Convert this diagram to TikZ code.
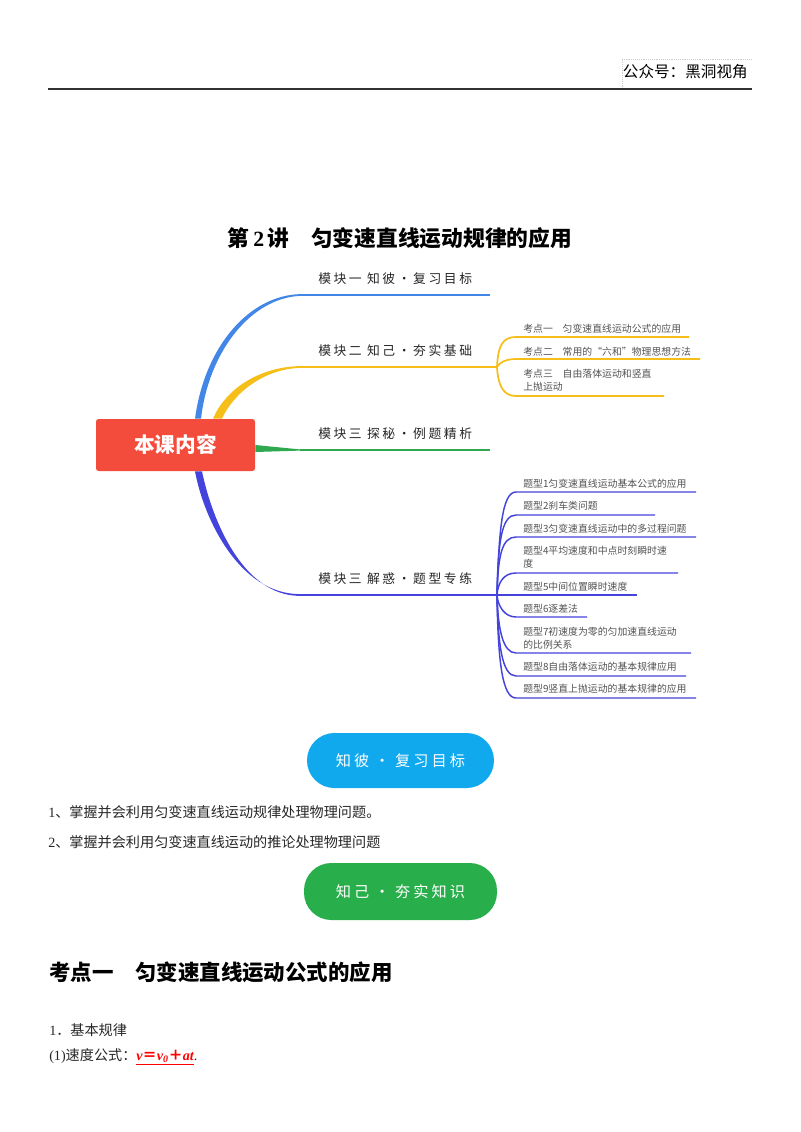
\documentclass[tikz,border=0pt]{standalone}
\usepackage{fontspec}
\setmainfont{Liberation Serif}
\newfontfamily\cjk{Noto Sans CJK SC}
\newfontfamily\cjkwide[LetterSpace=20]{Noto Sans CJK SC}
\usetikzlibrary{calc}
\definecolor{rootred}{HTML}{F44C3C}
\definecolor{brblue}{HTML}{4287E8}
\definecolor{bryellow}{HTML}{F5BE18}
\definecolor{brgreen}{HTML}{2FA84F}
\definecolor{brviolet}{HTML}{4444DD}
\definecolor{pillblue}{HTML}{10A9EE}
\definecolor{pillgreen}{HTML}{28AE4A}
\tikzset{
	leaf/.style={anchor=west,inner sep=0pt,align=left,text=black!68,font=\cjk\fontsize{7.4}{9.9}\selectfont},
	branch/.style={anchor=west,inner sep=0pt,text=black!85,font=\cjkwide\fontsize{9.6}{11}\selectfont},
	body/.style={anchor=west,inner sep=0pt,text=black!85,font=\fontsize{10.6}{12}\selectfont},
	head/.style={anchor=west,inner sep=0pt,font=\cjk\bfseries\fontsize{16.1}{18}\selectfont},
	pill/.style={rounded corners=20.5pt,inner sep=0pt,text=white,font=\cjkwide\fontsize{11.4}{13}\selectfont},
	yline/.style={bryellow,line width=1.3pt},
	vline/.style={brviolet,line width=1.1pt}
}
\begin{document}
\begin{tikzpicture}[x=0.75pt,y=-0.75pt]
	\useasboundingbox (0,0) rectangle (800,1132);

	% header
	\node[inner sep=0pt,anchor=east,font=\cjk\fontsize{11.7}{13}\selectfont] (sign) at (748,72) {公众号：黑洞视角};
	\coordinate (ruleL) at (48,89);
	\coordinate (ruleR) at (752,89);
	\draw[black!80,line width=1.3pt] (ruleL)--(ruleR);
	\draw[black!20,densely dotted,line width=0.4pt] (622,87)--(622,59)--(752,59);

	\node[head,anchor=center,font=\cjk\bfseries\fontsize{16.3}{18}\selectfont] (title) at (400,238) {第\,{\rmfamily\bfseries 2}\,讲\quad 匀变速直线运动规律的应用};

	% root and main branches
	\node[fill=rootred,rounded corners=2pt,minimum width=119.25pt,minimum height=39pt,inner sep=0pt,text=white,font=\cjk\bfseries\fontsize{15.5}{17}\selectfont] (root) at (175.5,445) {\raisebox{-1.5pt}{本课内容}};

	\coordinate (m1) at (300,295);
	\coordinate (e1) at (490,295);
	\fill[brblue] ($(root.north)+(19.5,0)$) .. controls (205,345) and (250,295.5) .. ($(m1)+(0,-0.9)$) -- ($(m1)+(0,0.9)$) .. controls (252,298) and (209,350) .. ($(root.north)+(25.5,0)$)--cycle;
	\draw[brblue,line width=1.1pt] (m1)--(e1);
	\node[branch] (lab1) at (318,279) {模块一\hspace{4pt}知彼·复习目标};

	\coordinate (m2) at (300,367);
	\coordinate (hubA) at (497,367);
	\fill[bryellow] ($(root.north)+(37.5,0)$) .. controls (225,390) and (258,367) .. ($(m2)+(0,-0.9)$) -- ($(m2)+(0,0.9)$) .. controls (263,369) and (233,394) .. ($(root.north)+(46.5,0)$)--cycle;
	\draw[bryellow,line width=1.1pt] (m2)--(hubA);
	\node[branch] (lab2) at (318,351) {模块二\hspace{4pt}知己·夯实基础};

	\coordinate (m3) at (300,450);
	\coordinate (e3) at (490,450);
	\fill[brgreen] ($(root.east)+(0,0)$) -- ($(m3)+(0,-0.6)$) -- ($(m3)+(0,0.6)$) -- ($(root.east)+(0,7)$)--cycle;
	\draw[brgreen,line width=0.9pt] (m3)--(e3);
	\node[branch] (lab3) at (318,434) {模块三\hspace{4pt}探秘·例题精析};

	\coordinate (m4) at (300,595);
	\coordinate (hubB) at (497,595);
	\fill[brviolet] ($(root.south)+(19.5,0)$) .. controls (204,520) and (240,594.2) .. ($(m4)+(0,-0.9)$) -- ($(m4)+(0,0.9)$) .. controls (243,595.8) and (212,520) .. ($(root.south)+(26.5,0)$)--cycle;
	\draw[brviolet,line width=1pt] (m4)--(hubB);
	\node[branch] (lab4) at (318,579) {模块三\hspace{4pt}解惑·题型专练};

	% yellow leaves
	\node[leaf] (k1) at (523,329) {考点一\quad 匀变速直线运动公式的应用};
	\node[leaf] (k2) at (523,352) {考点二\quad 常用的“六和”物理思想方法};
	\node[leaf] (k3) at (523,380.5) {考点三\quad 自由落体运动和竖直\\上抛运动};
	\coordinate (k1e) at (689,337);
	\coordinate (k2e) at (700,359);
	\coordinate (k3e) at (664,396);
	\draw[yline] (hubA) .. controls (498,345) and (503,337) .. (516,337)--(k1e);
	\draw[yline] (hubA) .. controls (499,363) and (505,359) .. (516,359)--(k2e);
	\draw[yline] (hubA) .. controls (498,385) and (503,396) .. (516,396)--(k3e);

	% violet leaves
	\node[leaf] (t1) at (523,484) {题型1匀变速直线运动基本公式的应用};
	\node[leaf] (t2) at (523,506) {题型2刹车类问题};
	\node[leaf] (t3) at (523,529) {题型3匀变速直线运动中的多过程问题};
	\node[leaf] (t4) at (523,557.5) {题型4平均速度和中点时刻瞬时速\\度};
	\node[leaf] (t5) at (523,587) {题型5中间位置瞬时速度};
	\node[leaf] (t6) at (523,609) {题型6逐差法};
	\node[leaf] (t7) at (523,638) {题型7初速度为零的匀加速直线运动\\的比例关系};
	\node[leaf] (t8) at (523,667) {题型8自由落体运动的基本规律应用};
	\node[leaf] (t9) at (523,689) {题型9竖直上抛运动的基本规律的应用};
	\coordinate (t1e) at (696,492);
	\coordinate (t2e) at (655,515);
	\coordinate (t3e) at (696,537);
	\coordinate (t4e) at (678,573);
	\coordinate (t5e) at (637,595);
	\coordinate (t6e) at (587,617);
	\coordinate (t7e) at (691,653);
	\coordinate (t8e) at (686,676);
	\coordinate (t9e) at (696,698);
	\draw[vline] (hubB) .. controls (499,530) and (502,492) .. (516,492)--(t1e);
	\draw[vline] (hubB) .. controls (498,540) and (502,515) .. (516,515)--(t2e);
	\draw[vline] (hubB) .. controls (498,555) and (502,537) .. (516,537)--(t3e);
	\draw[vline] (hubB) .. controls (498,582) and (504,573) .. (516,573)--(t4e);
	\draw[vline] (hubB)--(t5e);
	\draw[vline] (hubB) .. controls (498,607) and (505,617) .. (516,617)--(t6e);
	\draw[vline] (hubB) .. controls (498,630) and (503,653) .. (516,653)--(t7e);
	\draw[vline] (hubB) .. controls (498,645) and (502,676) .. (516,676)--(t8e);
	\draw[vline] (hubB) .. controls (498,660) and (502,698) .. (516,698)--(t9e);

	% lower part of the page
	\node[pill,fill=pillblue,minimum width=140.25pt,minimum height=41.25pt] (goal) at (400.5,760.5) {知彼\hspace{4pt}·\hspace{4pt}复习目标};
	\node[body] (b1) at (48,812) {1{\cjk 、掌握并会利用匀变速直线运动规律处理物理问题。}};
	\node[body] (b2) at (48,842) {2{\cjk 、掌握并会利用匀变速直线运动的推论处理物理问题}};
	\node[pill,fill=pillgreen,minimum width=144.75pt,minimum height=42.75pt] (base) at (400.5,891.5) {知己\hspace{4pt}·\hspace{4pt}夯实知识};

	\node[head] (kd) at (49,972) {考点一\quad 匀变速直线运动公式的应用};
	\node[body] (b3) at (49,1030) {1{\cjk ．基本规律}};
	\node[body] (b4) at (49,1057) {(1){\cjk 速度公式：}\textcolor{red}{\underline{\bfseries\itshape v{\cjk ＝}v\textsubscript{0}{\cjk ＋}at}}.};
\end{tikzpicture}
\end{document}
